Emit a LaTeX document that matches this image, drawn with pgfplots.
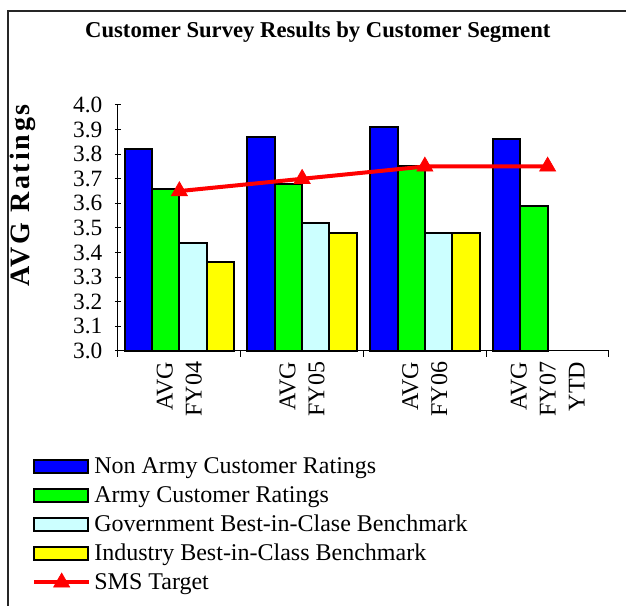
\documentclass[border=0pt]{standalone}
\usepackage{fontspec}
\setmainfont{Liberation Serif}
\usepackage{pgfplots}
\pgfplotsset{compat=1.18}

\definecolor{nonarmy}{HTML}{0000FF}
\definecolor{army}{HTML}{00FF00}
\definecolor{govbench}{HTML}{CCFFFF}
\definecolor{indbench}{HTML}{FFFF00}
\definecolor{smsred}{HTML}{FF0000}

\pgfplotsset{
    boxlegend/.style={legend image code/.code={\draw[##1] (0pt,-4.875pt) rectangle (40.5pt,4.875pt);}},
    linelegend/.style={legend image code/.code={\draw[##1, mark repeat=2, mark phase=2] plot coordinates {(0pt,0pt) (20.5pt,0pt) (41pt,0pt)};}},
}

\begin{document}
\begin{tikzpicture}
\begin{axis}[
    scale only axis,
    width=368.25pt, height=184.5pt,
    xmin=-0.5, xmax=3.5,
    ymin=3.0, ymax=4.0,
    ytick distance=0.1,
    xtick={0,1,2,3},
    xticklabels={{AVG\\FY04},{AVG\\FY05},{AVG\\FY06},{AVG\\FY07\\YTD}},
    xticklabel style={rotate=90, anchor=east, align=right, font=\fontsize{18}{21.75}\selectfont},
    minor xtick={-0.5,0.5,1.5,2.5,3.5},
    every major x tick/.append style={draw=none},
    tick align=outside,
    major tick length=4.5pt, minor tick length=4.5pt,
    every tick/.style={black, line width=0.75pt},
    yticklabel style={/pgf/number format/fixed, /pgf/number format/fixed zerofill, /pgf/number format/precision=1,
        font=\fontsize{17.5}{20}\selectfont, xshift=-6pt},
    /pgf/number format/assume math mode=true,
    axis lines=left,
    axis line style={-, black, line width=0.75pt},
    ybar=0pt, bar width=20.5pt,
    title={Customer Survey Results by Customer Segment},
    title style={font=\fontsize{17}{20}\selectfont\bfseries, at={(axis description cs:0.407,1.262)}, anchor=center},
    ylabel={AVG Ratings},
    ylabel style={font=\fontsize{21}{24}\selectfont\bfseries\addfontfeature{LetterSpace=10}, at={(axis description cs:-0.1935,0.632)}, anchor=center},
    legend style={at={(axis description cs:-0.175,-0.422)}, anchor=north west, draw=none, fill=none, inner sep=0pt,
        font=\fontsize{18}{20}\selectfont, row sep=4pt, /tikz/every odd column/.style={column sep=0.5pt}},
    legend cell align=left,
    clip=false,
]
\addplot[draw=black, line width=1.5pt, fill=nonarmy, boxlegend]
    coordinates {(0,3.82) (1,3.87) (2,3.91) (3,3.86)};
\addplot[draw=black, line width=1.5pt, fill=army, boxlegend]
    coordinates {(0,3.66) (1,3.68) (2,3.75) (3,3.59)};
\addplot[draw=black, line width=1.5pt, fill=govbench, boxlegend]
    coordinates {(0,3.44) (1,3.52) (2,3.48)};
\addplot[draw=black, line width=1.5pt, fill=indbench, boxlegend]
    coordinates {(0,3.36) (1,3.48) (2,3.48)};
\addplot[sharp plot, draw=smsred, line width=3pt, mark=triangle*, mark size=7pt,
    mark options={fill=smsred, draw=smsred, line width=0.5pt}, linelegend]
    coordinates {(0,3.65) (1,3.70) (2,3.75) (3,3.75)};
\legend{Non Army Customer Ratings, Army Customer Ratings, Government Best-in-Clase Benchmark, Industry Best-in-Class Benchmark, SMS Target}
\end{axis}
\pgfresetboundingbox
\useasboundingbox (-88.5pt,-191.25pt) rectangle (381pt,263.25pt);
\begin{scope}
\clip (-88.5pt,-191.25pt) rectangle (381pt,263.25pt);
\draw[line width=0.9pt, black!85] (-82.5pt,-200pt) -- (-82.5pt,255pt) -- (390pt,255pt);
\end{scope}
\end{tikzpicture}
\end{document}
